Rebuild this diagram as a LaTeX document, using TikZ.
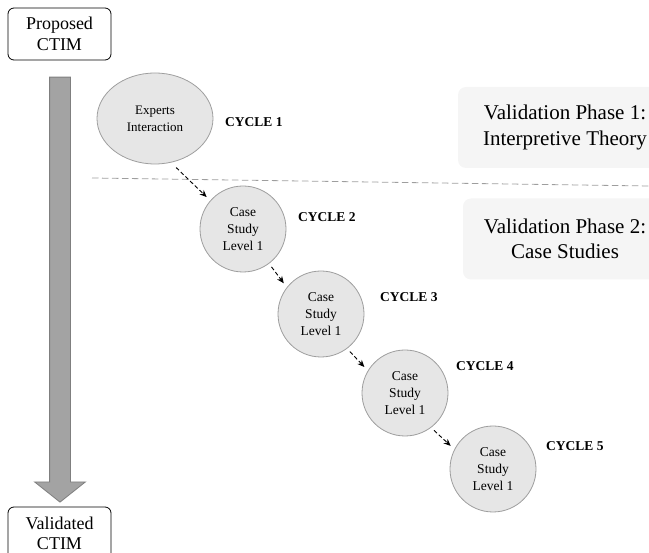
\documentclass[tikz,border=0pt]{standalone}
\usepackage{fontspec}
\setmainfont{Liberation Serif}
\usetikzlibrary{shapes.geometric, shapes.arrows, arrows.meta, positioning}
\definecolor{cyclefill}{HTML}{E6E6E6}
\definecolor{cycleline}{HTML}{9E9E9E}
\definecolor{phasefill}{HTML}{F5F5F5}
\definecolor{flowfill}{HTML}{A3A3A3}
\definecolor{flowline}{HTML}{7F7F7F}

\begin{document}
\begin{tikzpicture}[x=1pt, y=-1pt,
	endbox/.style={draw, rounded corners=6pt, line width=0.8pt, align=center,
	minimum width=103pt, minimum height=52pt, font=\fontsize{18}{21}\selectfont},
	cyc/.style={draw=cycleline, fill=cyclefill, circle, line width=0.8pt,
	minimum size=86pt, inner sep=0pt, align=center, font=\fontsize{13.5}{17}\selectfont},
	tag/.style={font=\bfseries\fontsize{13.5}{15}\selectfont, anchor=west, inner sep=0pt},
	phase/.style={fill=phasefill, rounded corners=8pt, align=center,
	minimum height=81pt},
	step arrow/.style={dashed, line width=0.9pt, dash pattern=on 4pt off 2.5pt,
	shorten <=7pt, shorten >=5pt, -{Stealth[length=7pt, width=6pt]}}]
\useasboundingbox (0,0) rectangle (649,553);
% left hand flow
\node[endbox] (prop) at (59.5, 34) {Proposed\\CTIM};
\node[endbox, font=\fontsize{18}{20}\selectfont] (valid) at (59.5, 533) {Validated\\CTIM};
\node[single arrow, draw=flowline, fill=flowfill, line width=0.8pt,
	inner sep=10pt, single arrow head extend=15pt, single arrow head indent=0pt,
	single arrow tip angle=103, minimum height=425pt, shape border rotate=270] (flow) at (60, 285.5) {};
% phases
\node[phase, minimum width=214pt, font=\fontsize{21}{26}\selectfont] (ph1) at (565, 127.5) {Validation Phase 1:\\Interpretive Theory};
\node[phase, minimum width=204pt, font=\fontsize{21}{25}\selectfont] (ph2) at (565, 239) {Validation Phase 2:\\Case Studies};
\coordinate (sepL) at (92, 178);
\coordinate (sepR) at (649, 186);
\draw[cycleline, line width=0.8pt, dash pattern=on 6.5pt off 3.5pt] (sepL) -- (sepR);
% cycles
\node[draw=cycleline, fill=cyclefill, ellipse, line width=0.8pt, minimum width=116pt,
	minimum height=91pt, inner sep=0pt, align=center, font=\fontsize{13}{17}\selectfont] (exp) at (155, 118.5) {Experts\\Interaction};
\node[cyc] (c2) at (243, 229) {Case\\Study\\Level 1};
\node[cyc] (c3) at (321, 314) {Case\\Study\\Level 1};
\node[cyc] (c4) at (405, 393) {Case\\Study\\Level 1};
\node[cyc] (c5) at (493, 469) {Case\\Study\\Level 1};
\node[tag] (t1) at (225, 122) {CYCLE 1};
\node[tag] (t2) at (298, 217) {CYCLE 2};
\node[tag] (t3) at (380, 297) {CYCLE 3};
\node[tag] (t4) at (456, 366) {CYCLE 4};
\node[tag] (t5) at (546, 446) {CYCLE 5};
\draw[step arrow] (exp.-70) -- (c2.139);
\draw[step arrow, shorten <=4pt] (c2.-53) -- (c3.142);
\draw[step arrow, shorten <=4pt] (c3.-53) -- (c4.149);
\draw[step arrow, shorten <=4pt] (c4.-53) -- (c5.153);
\end{tikzpicture}
\end{document}
